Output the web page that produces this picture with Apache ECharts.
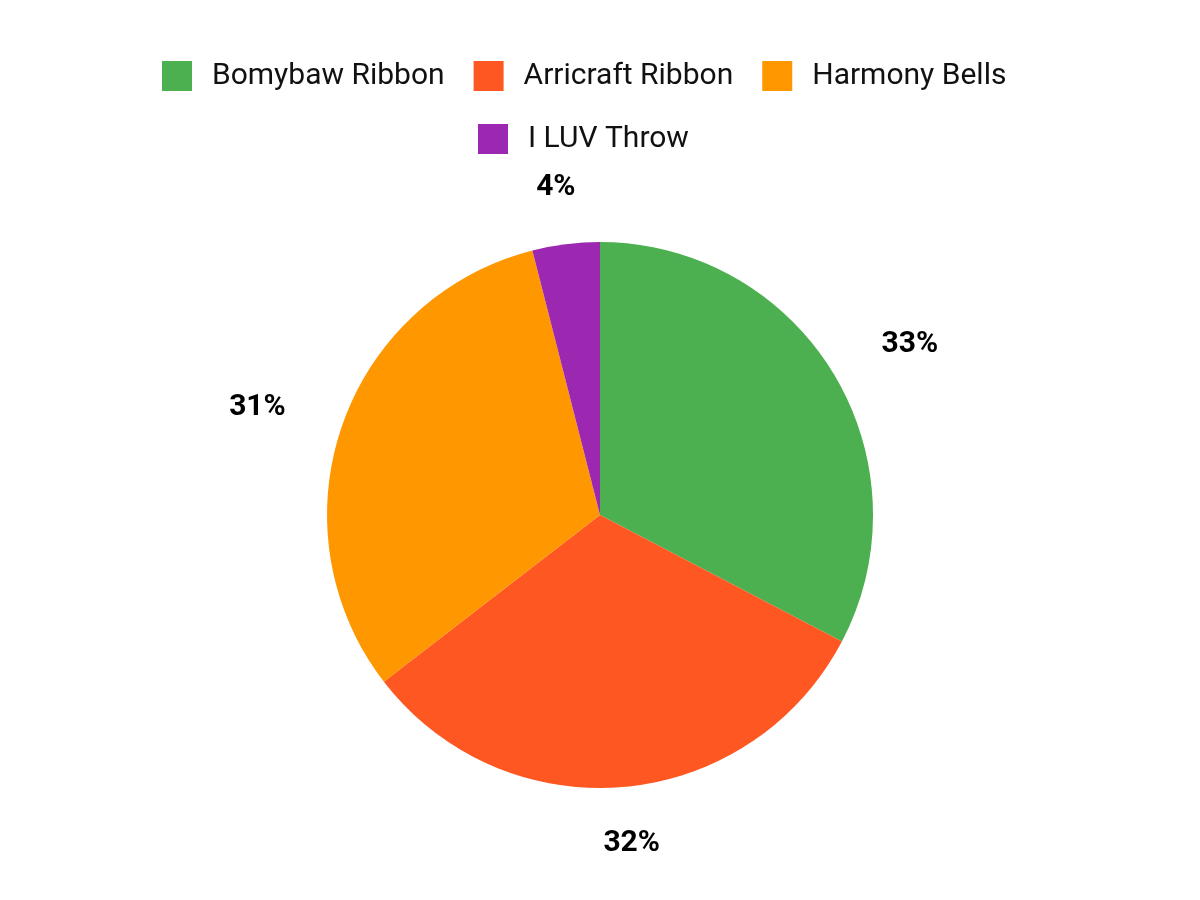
<!DOCTYPE html>
<html>
<head>
<meta charset="utf-8">
<script src="https://cdn.jsdelivr.net/npm/echarts@6/dist/echarts.min.js"></script>
<style>
  html, body { margin: 0; background: #fff; }
  #chart { width: 1200px; height: 900px; }
</style>
</head>
<body>
<div id="chart"></div>
<script>
const categories = ["Bomybaw Ribbon", "Arricraft Ribbon", "Harmony Bells", "I LUV Throw"];
const values = [82, 80, 79, 10];
const colors = ["#4caf50", "#ff5722", "#ff9800", "#9c27b0"];

const chart = echarts.init(document.getElementById("chart"));

const pieRadius = 273;
const pieCenterY = 515;
const total = values.reduce((a, b) => a + b, 0);

// mid angle of a slice, radians clockwise from 12 o'clock
function midAngle(i) {
  let before = 0;
  for (let k = 0; k < i; k++) before += values[k];
  return ((before + values[i] / 2) / total) * Math.PI * 2;
}

const legendBase = {
  padding: 5,
  icon: "rect",
  itemWidth: 30,
  itemHeight: 30,
  itemGap: 29,
  textStyle: {
    fontSize: 30,
    fontFamily: "Roboto",
    color: "#111",
    padding: [0, 0, 0, 15],
  },
};

const option = {
  animation: false,
  color: colors,
  legend: [
    Object.assign({}, legendBase, { left: 157, top: 56, data: categories.slice(0, 3) }),
    Object.assign({}, legendBase, { left: 473, top: 119, data: categories.slice(3) }),
  ],
  series: [
    {
      type: "pie",
      center: ["50%", pieCenterY],
      radius: pieRadius,
      startAngle: 90,
      clockwise: true,
      avoidLabelOverlap: false,
      percentPrecision: 0,
      data: categories.map((c, i) => ({ name: c, value: values[i] })),
      label: {
        show: true,
        position: "outside",
        formatter: (p) => p.percent + "%",
        fontSize: 30,
        fontWeight: "bold",
        fontFamily: "Roboto",
        color: "#000",
      },
      labelLine: { show: false },
      // labels sit just outside the rim, pushed sideways by half their width
      labelLayout: function (p) {
        const a = midAngle(p.dataIndex);
        const sx = Math.sin(a);
        const sy = -Math.cos(a);
        const d = pieRadius + 57;
        return {
          x: chart.getWidth() / 2 + sx * d + sx * (p.labelRect.width / 2 + 4),
          y: pieCenterY + sy * d,
          align: "center",
          verticalAlign: "middle",
        };
      },
      emphasis: { disabled: true },
    },
  ],
};

chart.setOption(option);
</script>
</body>
</html>
